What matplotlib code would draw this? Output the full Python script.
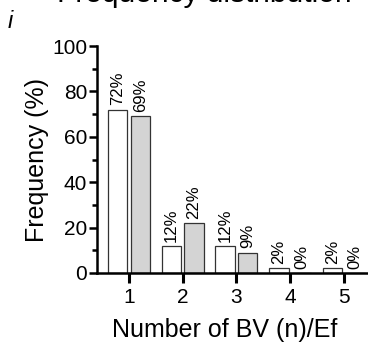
import numpy as np
import matplotlib
matplotlib.use('Agg')
from matplotlib import pyplot as plt
from matplotlib.ticker import MultipleLocator

plt.rcParams['font.family'] = ['Liberation Sans', 'DejaVu Sans']

categories = [1, 2, 3, 4, 5]
white_vals = [72, 12, 12, 2, 2]
gray_vals  = [69, 22, 9, 0, 0]

fig = plt.figure(figsize=(3.68, 3.44), dpi=100)
ax = fig.add_axes([0.2636, 0.2064, 0.7364, 0.6598])

x = np.array(categories, dtype=float)
w = 0.36
b1 = ax.bar(x - 0.21, white_vals, w, color='white', edgecolor='#333333', linewidth=0.9)
b2 = ax.bar(x + 0.21, gray_vals, w, color='#d4d4d4', edgecolor='#333333', linewidth=0.9)

for bars, vals in ((b1, white_vals), (b2, gray_vals)):
    for r, v in zip(bars, vals):
        ax.annotate('%d%%' % v, (r.get_x() + r.get_width() / 2, r.get_height()),
                    xytext=(0, 3), textcoords='offset points',
                    rotation=90, ha='center', va='bottom', fontsize=12)

ax.set_xlim(0.404, 5.45)
ax.set_ylim(0, 100)
ax.set_xticks(categories)
ax.yaxis.set_major_locator(MultipleLocator(20))
ax.yaxis.set_minor_locator(MultipleLocator(10))

for s in ('top', 'right'):
    ax.spines[s].set_visible(False)
for s in ('left', 'bottom'):
    ax.spines[s].set_linewidth(1.8)

ax.tick_params(axis='y', which='major', length=6, width=1.8, labelsize=15, pad=1)
ax.tick_params(axis='y', which='minor', length=3.5, width=1.8)
ax.tick_params(axis='x', which='major', length=7, width=2.2, labelsize=15, pad=4)

ax.set_ylabel('Frequency (%)', fontsize=18, labelpad=2)
ax.set_xlabel('Number of BV (n)/Ef', fontsize=18)
ax.xaxis.set_label_coords(0.472, -0.2)

# title is cropped at the top edge in the reference
fig.text(0.555, 1.0 - 1.5 / 344, 'Frequency distribution', fontsize=21.5,
         ha='center', va='baseline')
fig.text(0.022, 1.0 - 28 / 344, 'i', fontsize=17, style='italic', va='baseline')

fig.savefig('out.png', dpi=100)
